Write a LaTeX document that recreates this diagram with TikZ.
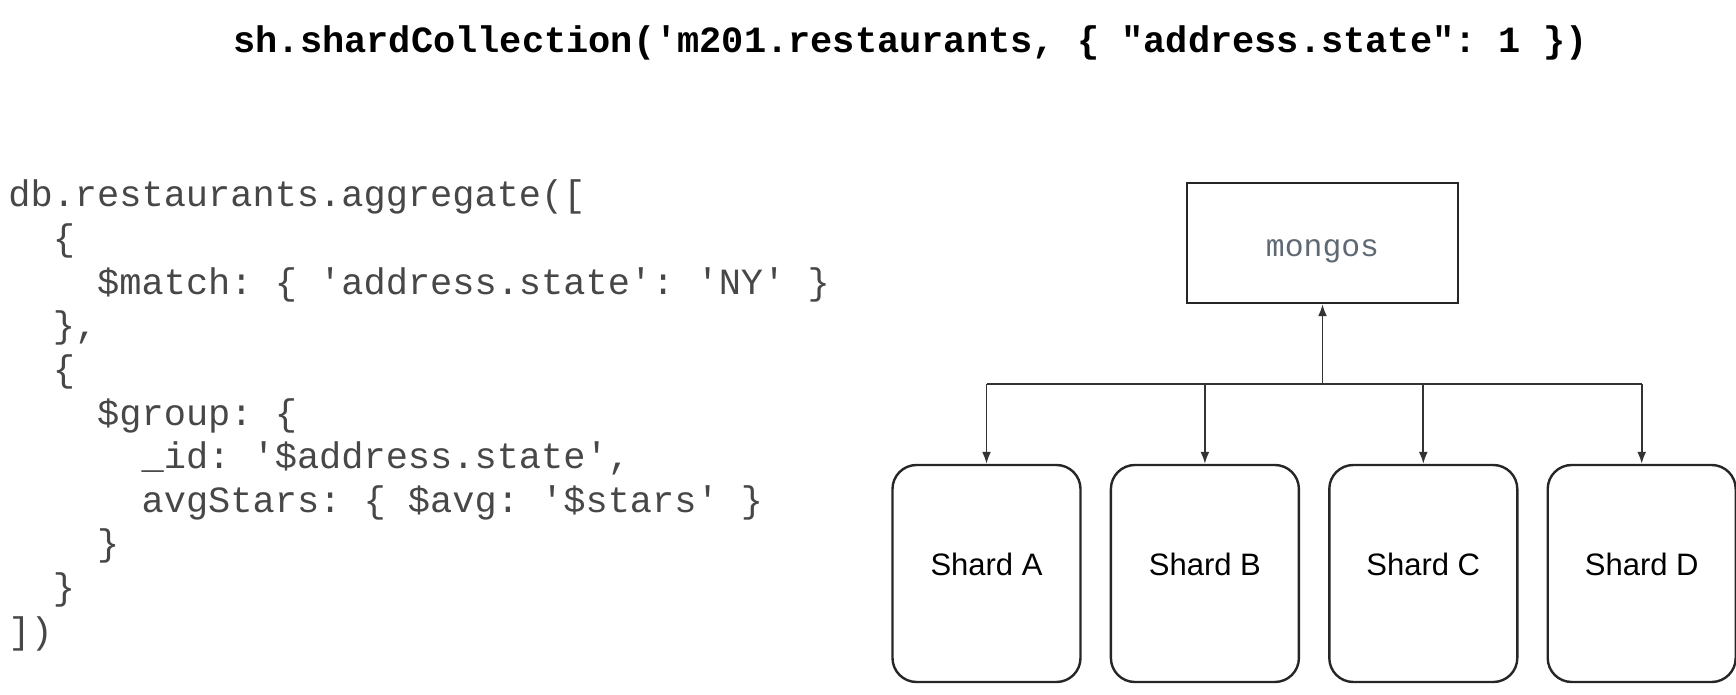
\documentclass[tikz,border=0pt]{standalone}
\usepackage{fontspec}
\setmainfont{Liberation Sans}
\setmonofont{Liberation Mono}
\usetikzlibrary{arrows.meta,positioning}

\definecolor{slate}{RGB}{95,105,115}

\tikzset{
  shard/.style={draw=black!85,line width=1.2pt,rounded corners=12pt,
    minimum width=94pt,minimum height=108.5pt,
    font=\fontsize{15.5}{18}\selectfont,text height=11pt,text depth=9pt},
  router/.style={draw=black!85,line width=1.2pt,minimum width=135.5pt,
    minimum height=60pt,text=slate,text height=13.3pt,text depth=0pt,
    font=\ttfamily\fontsize{15.7}{18}\selectfont},
  codeline/.style={anchor=base west,inner sep=0pt,text=black!72,
    font=\ttfamily\fontsize{18.5}{22}\selectfont},
  link/.style={draw=black!80,line width=0.9pt},
  tipped/.style={-{Latex[length=6pt,width=4.5pt]}}
}

\begin{document}
\begin{tikzpicture}[x=0.5pt,y=-0.5pt]
\useasboundingbox (0,0) rectangle (1736,695);

% command on top
\node[anchor=base west,inner sep=0pt,font=\ttfamily\bfseries\fontsize{18.5}{22}\selectfont]
  (title) at (233,53) {sh.shardCollection('m201.restaurants, \{ "address.state": 1 \})};

% pipeline, one node per line
\foreach \n/\c/\txt in {1/0/{db.restaurants.aggregate([},
    2/2/{\{},
    3/4/{\$match: \{ 'address.state': 'NY' \}},
    4/2/{\},},
    5/2/{\{},
    6/4/{\$group: \{},
    7/6/{\_id: '\$address.state',},
    8/6/{avgStars: \{ \$avg: '\$stars' \}},
    9/4/{\}},
    10/2/{\}},
    11/0/{])}}
  \node[codeline] (c\n) at ({8+22.2*\c},{207+43.6*(\n-1)}) {\txt};

% cluster
\node[router] (mongos) at (1322.5,243) {mongos};
\node[shard] (shardA) at (986.5,573.5) {Shard A};
\node[shard,right=14pt of shardA] (shardB) {Shard B};
\node[shard,right=14pt of shardB] (shardC) {Shard C};
\node[shard,right=14pt of shardC] (shardD) {Shard D};
\coordinate (bus) at (1322.5,384);

\draw[link] (shardA.north |- bus) -- (shardD.north |- bus);
\draw[link,tipped] (bus) -- (mongos);
\foreach \s in {shardA,shardB,shardC,shardD}
  \draw[link,tipped] (\s.north |- bus) -- (\s);
\end{tikzpicture}
\end{document}
